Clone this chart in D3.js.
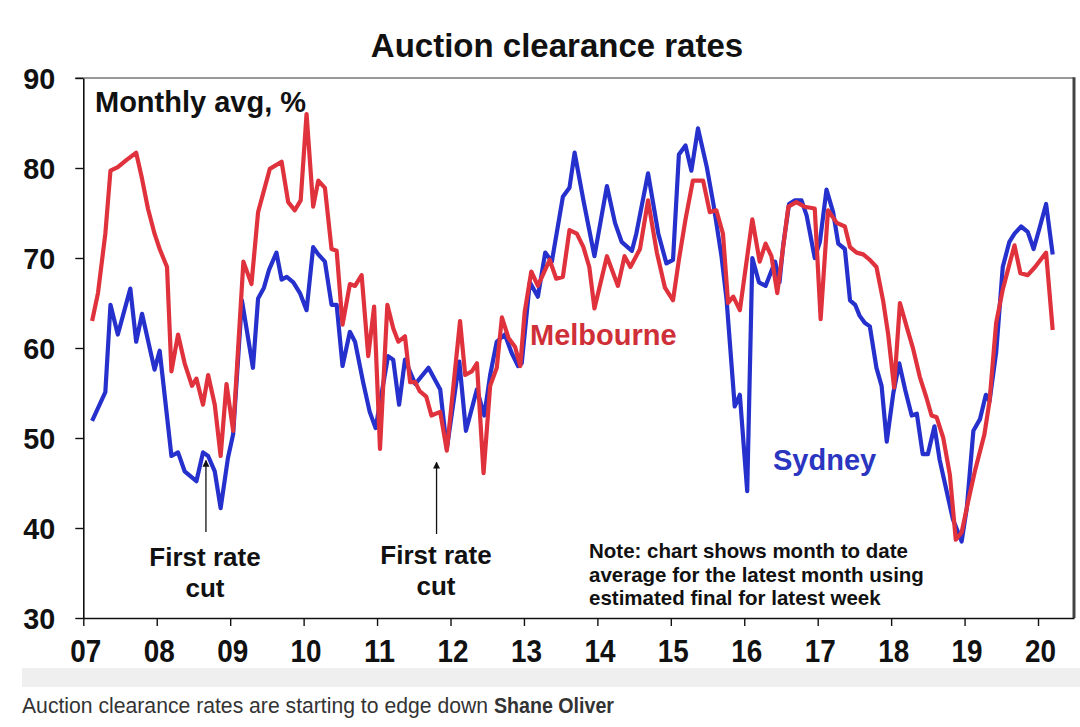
<!DOCTYPE html>
<html>
<head>
<meta charset="utf-8">
<script src="https://cdn.jsdelivr.net/npm/d3@7"></script>
<style>
  html, body { margin: 0; padding: 0; background: #ffffff; }
  svg { display: block; }
  text { font-family: "Liberation Sans", Arial, Helvetica, sans-serif; }
</style>
</head>
<body>
<svg id="chart" width="1080" height="727"></svg>
<script>
// ---------- data ----------
const title = "Auction clearance rates";
const unitLabel = "Monthly avg, %";
const yTicks = [30, 40, 50, 60, 70, 80, 90];
const xTicks = [2007, 2008, 2009, 2010, 2011, 2012, 2013, 2014, 2015, 2016, 2017, 2018, 2019, 2020];
const xTickLabels = ["07", "08", "09", "10", "11", "12", "13", "14", "15", "16", "17", "18", "19", "20"];

// Sydney: time (decimal year) and clearance rate (%)
const sydneyT = [2007.12,2007.30,2007.37,2007.47,2007.64,2007.72,2007.80,2007.97,
  2008.04,2008.20,2008.29,2008.38,2008.54,2008.63,2008.70,2008.79,2008.87,2008.97,
  2009.04,2009.16,2009.31,2009.38,2009.46,2009.53,2009.63,2009.70,2009.77,2009.86,2009.95,
  2010.04,2010.13,2010.20,2010.29,2010.38,2010.45,2010.53,2010.63,2010.70,2010.81,2010.90,2010.98,
  2011.15,2011.22,2011.30,2011.38,2011.52,2011.70,2011.86,2011.95,
  2012.12,2012.21,2012.36,2012.46,2012.54,2012.63,2012.74,2012.83,2012.92,2012.97,
  2013.08,2013.19,2013.29,2013.38,2013.53,2013.62,2013.69,2013.81,2013.96,
  2014.13,2014.24,2014.33,2014.47,2014.53,2014.69,2014.83,2014.94,
  2015.03,2015.11,2015.20,2015.28,2015.37,2015.49,2015.58,2015.69,2015.76,2015.87,2015.94,
  2016.04,2016.11,2016.20,2016.29,2016.42,2016.48,2016.53,2016.61,2016.69,2016.78,2016.85,2016.96,
  2017.03,2017.12,2017.21,2017.28,2017.37,2017.44,2017.51,2017.57,2017.64,2017.71,2017.80,2017.87,2017.94,
  2018.03,2018.11,2018.19,2018.28,2018.35,2018.43,2018.50,2018.59,2018.66,2018.75,2018.84,2018.96,
  2019.03,2019.12,2019.21,2019.29,2019.34,2019.43,2019.52,2019.61,2019.68,2019.77,2019.86,2019.94,
  2020.02,2020.11,2020.20];
const sydneyV = [51.9,55.1,64.8,61.5,66.6,60.7,63.8,57.6,
  59.7,48.0,48.4,46.3,45.2,48.4,48.0,46.3,42.2,47.8,
  50.4,65.3,57.8,65.5,66.7,68.7,70.6,67.6,67.9,67.3,66.1,
  64.2,71.2,70.4,69.6,64.8,64.8,58.0,61.8,60.7,56.2,52.9,51.1,
  59.1,58.7,53.7,58.7,56.0,57.8,55.4,48.8,
  58.5,50.8,55.4,52.5,57.0,60.7,61.5,59.5,58.0,58.3,
  67.3,65.7,70.6,69.6,76.8,77.8,81.7,76.4,70.2,
  78.0,73.9,71.8,70.8,72.7,79.4,72.7,69.4,
  69.8,81.5,82.5,79.7,84.4,80.1,76.0,70.2,65.3,53.5,54.8,
  44.1,70.0,67.3,66.9,69.6,67.3,71.4,76.0,76.4,76.4,74.7,70.0,
  71.8,77.6,75.1,71.6,71.0,65.3,64.8,63.6,62.8,62.4,57.8,55.8,49.6,
  55.0,58.3,55.4,52.5,52.7,48.2,48.2,51.3,47.6,44.3,41.0,38.5,
  42.2,50.8,52.1,54.8,54.1,59.5,69.0,71.8,72.7,73.5,72.9,71.0,
  73.3,76.0,70.4];

// Melbourne: time (decimal year) and clearance rate (%)
const melbourneT = [2007.12,2007.20,2007.30,2007.37,2007.47,2007.59,2007.72,2007.80,2007.88,2007.97,
  2008.04,2008.14,2008.20,2008.29,2008.38,2008.48,2008.54,2008.63,2008.70,2008.79,2008.87,2008.95,
  2009.04,2009.18,2009.29,2009.38,2009.54,2009.70,2009.79,2009.88,2009.96,
  2010.04,2010.13,2010.20,2010.29,2010.38,2010.45,2010.53,2010.63,2010.70,2010.79,2010.88,2010.96,
  2011.04,2011.14,2011.22,2011.29,2011.38,2011.45,2011.52,2011.58,2011.67,2011.74,2011.86,2011.95,
  2012.04,2012.13,2012.20,2012.29,2012.36,2012.45,2012.54,2012.63,2012.70,2012.79,2012.88,2012.95,
  2013.01,2013.10,2013.19,2013.35,2013.44,2013.53,2013.62,2013.72,2013.81,2013.89,2013.96,
  2014.13,2014.28,2014.37,2014.45,2014.58,2014.69,2014.81,2014.92,
  2015.03,2015.11,2015.20,2015.30,2015.44,2015.53,2015.62,2015.71,2015.78,2015.85,2015.94,
  2016.11,2016.21,2016.29,2016.37,2016.45,2016.60,2016.71,2016.82,2016.96,
  2017.04,2017.14,2017.26,2017.37,2017.44,2017.53,2017.62,2017.71,2017.80,2017.89,2017.96,
  2018.04,2018.12,2018.21,2018.30,2018.39,2018.48,2018.55,2018.62,2018.71,2018.80,2018.88,2018.96,
  2019.05,2019.14,2019.27,2019.34,2019.43,2019.52,2019.62,2019.68,2019.76,2019.86,2019.96,
  2020.11,2020.20];
const melbourneV = [63.0,66.1,72.7,79.7,80.1,80.9,81.7,78.8,75.5,72.7,
  71.0,69.0,57.4,61.5,58.3,55.8,56.6,53.7,57.0,53.7,48.0,56.0,
  50.8,69.6,67.1,75.1,79.9,80.7,76.2,75.3,76.4,
  86.0,75.7,78.6,77.8,71.0,70.8,62.6,67.1,66.9,68.1,59.1,64.6,
  48.8,64.8,62.2,60.7,61.3,56.2,56.2,55.2,54.6,52.5,52.9,48.6,
  55.8,63.0,57.0,57.4,58.3,46.1,55.8,57.8,63.4,61.1,60.1,58.0,
  64.0,68.5,66.9,69.8,67.7,67.9,73.1,72.7,71.2,69.0,64.4,
  70.2,66.9,70.2,69.0,71.0,76.4,70.6,66.7,
  65.3,69.8,74.3,78.6,78.6,75.1,75.3,72.7,65.0,65.7,64.2,
  74.3,69.6,71.6,70.2,66.1,75.7,76.2,75.7,75.5,
  63.2,75.3,73.9,73.5,71.2,70.6,70.4,69.8,69.0,65.3,61.5,
  55.6,65.0,62.4,59.9,56.8,54.5,52.5,52.3,50.0,45.9,38.7,39.5,
  43.0,46.3,50.4,54.1,62.8,66.5,69.6,71.4,68.3,68.1,69.0,
  70.6,62.0];

// Annotations: "First rate cut" (time pointed at, value pointed at)
const rateCutT = [2008.67, 2011.81];
const rateCutV = [47.5, 47.3];
const rateCutText = ["First rate", "cut"];
const noteLines = ["Note: chart shows month to date",
                   "average for the latest month using",
                   "estimated final for latest week"];
const captionText = "Auction clearance rates are starting to edge down";
const captionAuthor = "Shane Oliver";

// ---------- drawing ----------
(function () {
const svg = d3.select("#chart");
const pLeft = 83.3, pRight = 1074, pTop = 78, pBottom = 618;
const blue = "#2630cc", red = "#e0323c";

const x = d3.scaleLinear().domain([2007, 2020.49]).range([pLeft, pRight]);
const y = d3.scaleLinear().domain([30, 90]).range([pBottom, pTop]);

svg.append("rect").attr("width", 1080).attr("height", 727).attr("fill", "#ffffff");

// title
svg.append("text").attr("x", 557).attr("y", 57).attr("text-anchor", "middle")
  .attr("font-size", 33).attr("font-weight", "bold").attr("fill", "#111").text(title);

// frame: top and right
svg.append("line").attr("x1", pLeft - 8).attr("x2", pRight).attr("y1", pTop).attr("y2", pTop)
  .attr("stroke", "#777").attr("stroke-width", 1.5);
svg.append("line").attr("x1", pRight).attr("x2", pRight).attr("y1", pTop - 0.75).attr("y2", pBottom)
  .attr("stroke", "#444").attr("stroke-width", 3);

// x axis
const xAxis = svg.append("g").attr("transform", `translate(0,${pBottom})`)
  .call(d3.axisBottom(x).tickValues(xTicks).tickSize(8).tickSizeOuter(0)
    .tickFormat((d, i) => xTickLabels[i]));
xAxis.select(".domain").attr("stroke", "#111").attr("stroke-width", 1.6);
xAxis.selectAll(".tick line").attr("stroke", "#111").attr("stroke-width", 1.4);
xAxis.selectAll(".tick text").attr("y", 44).attr("dy", 0).attr("dx", 2)
  .attr("font-size", 31).attr("font-weight", "bold").attr("fill", "#111")
  .attr("textLength", 31).attr("lengthAdjust", "spacingAndGlyphs")
  .attr("font-family", "'Liberation Sans', Arial, sans-serif");

// y axis
const yAxis = svg.append("g").attr("transform", `translate(${pLeft},0)`)
  .call(d3.axisLeft(y).tickValues(yTicks).tickSize(8).tickSizeOuter(0));
yAxis.select(".domain").attr("stroke", "#111").attr("stroke-width", 1.6);
yAxis.selectAll(".tick line").attr("stroke", "#111").attr("stroke-width", 1.4);
yAxis.selectAll(".tick text").attr("x", -28).attr("dy", "0.36em")
  .attr("font-size", 30).attr("font-weight", "bold").attr("fill", "#111")
  .attr("textLength", 32).attr("lengthAdjust", "spacingAndGlyphs")
  .attr("font-family", "'Liberation Sans', Arial, sans-serif");

// lines
const line = d3.line().x(d => x(d[0])).y(d => y(d[1])).curve(d3.curveLinear);
const sydney = sydneyT.map((t, i) => [t, sydneyV[i]]);
const melbourne = melbourneT.map((t, i) => [t, melbourneV[i]]);

svg.append("path").datum(sydney).attr("d", line).attr("fill", "none")
  .attr("stroke", blue).attr("stroke-width", 4.2).attr("stroke-linejoin", "round");
svg.append("path").datum(melbourne).attr("d", line).attr("fill", "none")
  .attr("stroke", red).attr("stroke-width", 4.2).attr("stroke-linejoin", "round");

// unit label
svg.append("text").attr("x", 95).attr("y", 112).attr("font-size", 29)
  .attr("font-weight", "bold").attr("fill", "#111").text(unitLabel);

// series labels
svg.append("text").attr("x", 530).attr("y", 345).attr("font-size", 29)
  .attr("font-weight", "bold").attr("fill", "#cf3038").text("Melbourne");
svg.append("text").attr("x", 773).attr("y", 470).attr("font-size", 29)
  .attr("font-weight", "bold").attr("fill", "#2a35c0").text("Sydney");

// arrows + "First rate cut"
const defs = svg.append("defs");
defs.append("marker").attr("id", "arrow").attr("viewBox", "0 0 10 10")
  .attr("refX", 9).attr("refY", 5).attr("markerWidth", 7).attr("markerHeight", 8)
  .attr("markerUnits", "userSpaceOnUse").attr("orient", "auto")
  .append("path").attr("d", "M0,0 L10,5 L0,10 Z").attr("fill", "#111");

rateCutT.forEach((t, i) => {
  const ax = x(t);
  const ayTip = y(rateCutV[i]);
  const ayTail = i === 0 ? 532 : 534;
  svg.append("line").attr("x1", ax).attr("x2", ax).attr("y1", ayTail).attr("y2", ayTip)
    .attr("stroke", "#111").attr("stroke-width", 1.3).attr("marker-end", "url(#arrow)");
  const cx = i === 0 ? 205 : 436;
  const base = i === 0 ? 566 : 564;
  rateCutText.forEach((s, j) => {
    svg.append("text").attr("x", cx).attr("y", base + j * 31).attr("text-anchor", "middle")
      .attr("font-size", 26).attr("font-weight", "bold").attr("fill", "#111").text(s);
  });
});

// note
noteLines.forEach((s, j) => {
  svg.append("text").attr("x", 589).attr("y", 558 + j * 23.5).attr("font-size", 20.5)
    .attr("font-weight", "bold").attr("fill", "#111").text(s);
});

// caption band + caption (two separate texts, condensed to the reference widths)
svg.append("rect").attr("x", 22).attr("y", 668).attr("width", 1058).attr("height", 19)
  .attr("fill", "#efefef");
svg.append("text").attr("x", 22).attr("y", 713).attr("font-size", 21.5)
  .attr("fill", "#333").attr("font-family", "Roboto, 'Noto Sans', sans-serif")
  .attr("textLength", 466).attr("lengthAdjust", "spacingAndGlyphs").text(captionText);
svg.append("text").attr("x", 494).attr("y", 713).attr("font-size", 21.5)
  .attr("fill", "#333").attr("font-weight", "bold")
  .attr("font-family", "Roboto, 'Noto Sans', sans-serif")
  .attr("textLength", 120).attr("lengthAdjust", "spacingAndGlyphs").text(captionAuthor);
})();
</script>
</body>
</html>
